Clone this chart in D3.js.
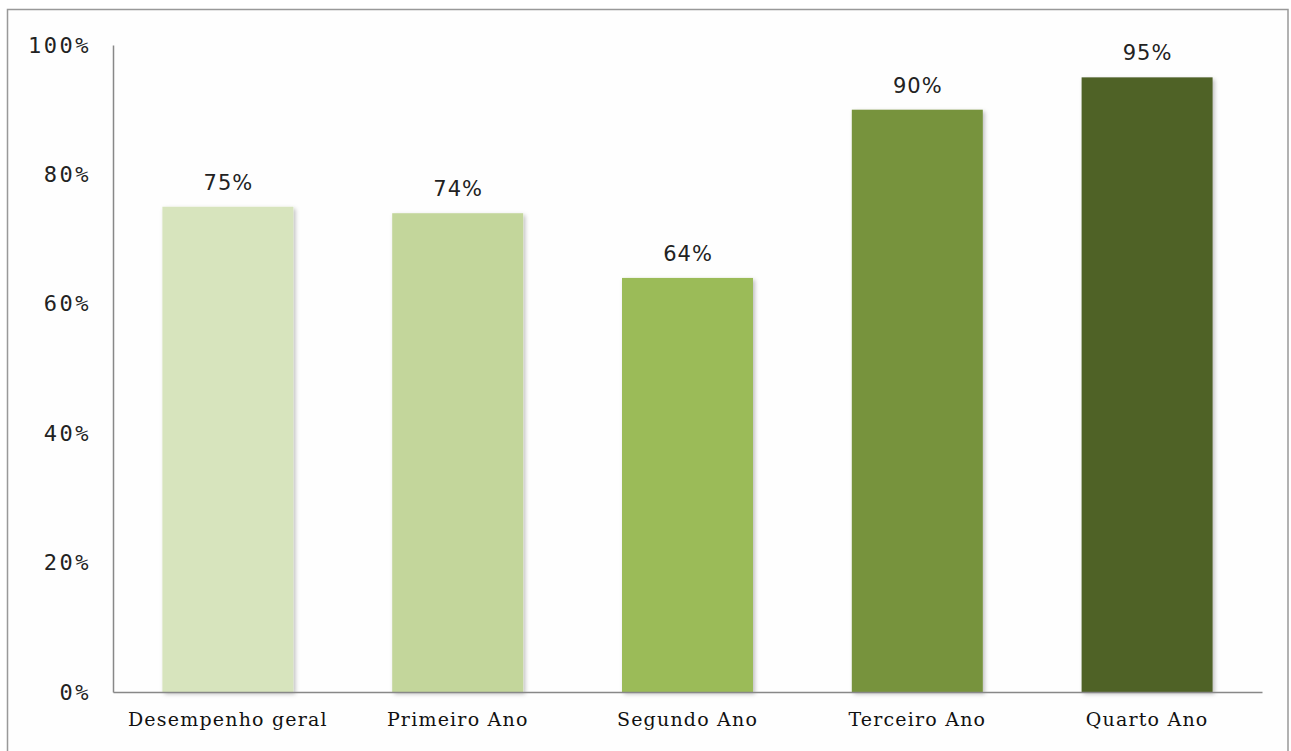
<!DOCTYPE html>
<html><head><meta charset="utf-8">
<script src="https://cdn.jsdelivr.net/npm/d3@7"></script>
<style>body{margin:0;background:#fff}</style>
</head><body>
<svg id="c" width="1291" height="751"></svg>
<script>
const categories = ["Desempenho geral","Primeiro Ano","Segundo Ano","Terceiro Ano","Quarto Ano"];
const values = [75, 74, 64, 90, 95];
const colors = ["#d7e4bd","#c3d69b","#9bbb59","#77933c","#4f6228"];
const yTicks = [0,20,40,60,80,100];

const svg = d3.select("#c");
const defs = svg.append("defs");
const f = defs.append("filter").attr("id","sh").attr("x","-10%").attr("y","-10%").attr("width","130%").attr("height","130%");
f.append("feDropShadow").attr("dx",2).attr("dy",2).attr("stdDeviation",2).attr("flood-color","#000").attr("flood-opacity",0.25);

svg.append("rect").attr("x",7.5).attr("y",9.5).attr("width",1280.5).attr("height",760)
  .attr("fill","#fefefe").attr("stroke","#999").attr("stroke-width",1.5);

const x = d3.scaleBand().domain(categories).range([113,1262]).paddingInner(0.43).paddingOuter(0.215);
const y = d3.scaleLinear().domain([0,100]).range([692,45]);

const g = svg.append("g");
g.selectAll("rect.bar").data(values).join("rect").attr("class","bar")
  .attr("x",(d,i)=>x(categories[i])).attr("width",x.bandwidth())
  .attr("y",d=>y(d)).attr("height",d=>y(0)-y(d))
  .attr("fill",(d,i)=>colors[i]).attr("filter","url(#sh)");

g.selectAll("text.val").data(values).join("text").attr("class","val")
  .attr("x",(d,i)=>x(categories[i])+x.bandwidth()/2+0.5).attr("y",d=>y(d)-17)
  .attr("text-anchor","middle").attr("font-family","DejaVu Sans").attr("font-size",21)
  .attr("letter-spacing",1).attr("fill","#222")
  .text(d=>d+"%");

const yAxis = svg.append("g").attr("transform","translate(113,0)")
  .call(d3.axisLeft(y).tickValues(yTicks).tickSize(0).tickPadding(22).tickFormat(d=>d+"%"));
yAxis.select(".domain").attr("stroke","#888").attr("stroke-width",1.5);
yAxis.selectAll("text").attr("font-family","DejaVu Sans Mono").attr("font-size",22)
  .attr("letter-spacing",2.5).attr("fill","#222");

const xAxis = svg.append("g").attr("transform","translate(0,692)")
  .call(d3.axisBottom(x).tickSize(0).tickPadding(21));
xAxis.select(".domain").attr("stroke","#888").attr("stroke-width",1.5);
xAxis.selectAll("text").attr("font-family","DejaVu Serif").attr("font-size",19)
  .attr("letter-spacing",1.2).attr("fill","#111");
</script>
</body></html>
